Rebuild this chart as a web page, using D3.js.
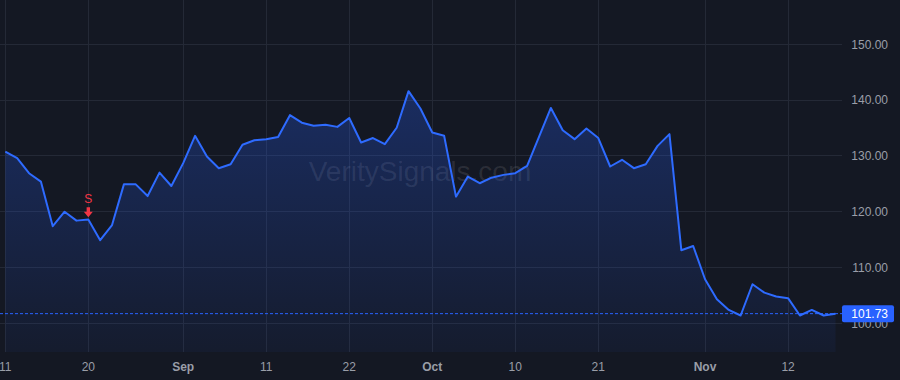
<!DOCTYPE html>
<html><head><meta charset="utf-8">
<script src="https://cdn.jsdelivr.net/npm/d3@7"></script>
<style>
html,body{margin:0;padding:0;background:#141823;}
svg{display:block;}
</style></head>
<body>
<svg id="chart" width="900" height="380"></svg>
<script>
const dates = [
 "2025-08-11","2025-08-12","2025-08-13","2025-08-14","2025-08-15","2025-08-18","2025-08-19","2025-08-20","2025-08-21","2025-08-22",
 "2025-08-25","2025-08-26","2025-08-27","2025-08-28","2025-08-29","2025-09-02","2025-09-03","2025-09-04","2025-09-05","2025-09-08",
 "2025-09-09","2025-09-10","2025-09-11","2025-09-12","2025-09-15","2025-09-16","2025-09-17","2025-09-18","2025-09-19","2025-09-22",
 "2025-09-23","2025-09-24","2025-09-25","2025-09-26","2025-09-29","2025-09-30","2025-10-01","2025-10-02","2025-10-03","2025-10-06",
 "2025-10-07","2025-10-08","2025-10-09","2025-10-10","2025-10-13","2025-10-14","2025-10-15","2025-10-16","2025-10-17","2025-10-20",
 "2025-10-21","2025-10-22","2025-10-23","2025-10-24","2025-10-27","2025-10-28","2025-10-29","2025-10-30","2025-10-31","2025-11-03",
 "2025-11-04","2025-11-05","2025-11-06","2025-11-07","2025-11-10","2025-11-11","2025-11-12","2025-11-13","2025-11-14","2025-11-17",
 "2025-11-18"];
const prices = [
 130.75,129.6,126.9,125.4,117.4,120.0,118.4,118.6,114.9,117.6,
 124.9,124.9,122.8,127.0,124.6,128.7,133.6,129.9,127.8,128.5,
 132.0,132.8,133.0,133.4,137.3,135.95,135.4,135.6,135.2,136.8,
 132.4,133.2,132.1,135.05,141.6,138.5,134.2,133.6,122.7,126.3,
 125.1,126.1,126.6,126.9,128.2,133.4,138.6,134.6,133.0,134.9,
 133.2,128.1,129.3,127.8,128.5,131.8,133.9,113.1,113.85,107.9,
 104.3,102.4,101.4,107.0,105.5,104.8,104.5,101.4,102.4,101.4,
 101.73];
const tickDates = ["2025-08-11","2025-08-20","2025-09-02","2025-09-11","2025-09-22","2025-10-01","2025-10-10","2025-10-21","2025-11-03","2025-11-12"];
const tickLabels = ["11","20","Sep","11","22","Oct","10","21","Nov","12"];
const monthTicks = ["Sep","Oct","Nov"];
const yTicks = [100,110,120,130,140,150];
const signalDates = ["2025-08-20"];
const signalLabels = ["S"];
const lastPrice = 101.73;

const W=900,H=380, plotR=842, plotB=352;
const svg = d3.select("#chart");
const x = d3.scaleLinear().domain([0, dates.length-1]).range([5.3, 835.5]);
const y = d3.scaleLinear().domain([100,150]).range([323.3, 44.3]);
const idx = d => dates.indexOf(d);

svg.append("rect").attr("width",W).attr("height",H).attr("fill","#141823");

// grid
const g = svg.append("g");
g.selectAll("line.h").data(yTicks).join("line")
 .attr("x1",0).attr("x2",plotR).attr("y1",d=>y(d)).attr("y2",d=>y(d))
 .attr("stroke","#242936").attr("stroke-width",1).attr("shape-rendering","crispEdges");
g.selectAll("line.v").data(tickDates).join("line")
 .attr("x1",d=>Math.round(x(idx(d)))+0.5).attr("x2",d=>Math.round(x(idx(d)))+0.5).attr("y1",0).attr("y2",plotB)
 .attr("stroke","#242936").attr("stroke-width",1);

// watermark
svg.append("text").attr("x",420).attr("y",181).attr("text-anchor","middle")
 .attr("font-family","Liberation Sans, Arial, sans-serif").attr("font-size",28)
 .attr("fill","#ffffff").attr("fill-opacity",0.1).text("VeritySignals.com");

// gradient
const defs = svg.append("defs");
const grad = defs.append("linearGradient").attr("id","ag")
 .attr("gradientUnits","userSpaceOnUse").attr("x1",0).attr("x2",0).attr("y1",y(d3.max(prices))).attr("y2",plotB);
grad.append("stop").attr("offset",0).attr("stop-color","#2962ff").attr("stop-opacity",0.28);
grad.append("stop").attr("offset",1).attr("stop-color","#2962ff").attr("stop-opacity",0.05);

const area = d3.area().x((d,i)=>x(i)).y0(plotB).y1(d=>y(d));
svg.append("path").datum(prices).attr("d",area).attr("fill","url(#ag)");

// price line dashed
svg.append("line").attr("x1",0).attr("x2",plotR).attr("y1",y(lastPrice)).attr("y2",y(lastPrice))
 .attr("stroke","#2962ff").attr("stroke-width",1).attr("stroke-dasharray","3,2");

const line = d3.line().x((d,i)=>x(i)).y(d=>y(d));
svg.append("path").datum(prices).attr("d",line).attr("fill","none")
 .attr("stroke","#2e6bff").attr("stroke-width",2).attr("stroke-linejoin","round");

// signal markers
signalDates.forEach((d,k)=>{
  const i = idx(d), cx = x(i), py = y(prices[i]);
  svg.append("text").attr("x",cx).attr("y",py-16.2).attr("text-anchor","middle")
   .attr("font-family","Liberation Sans, Arial, sans-serif").attr("font-size",12)
   .attr("fill","#f23645").text(signalLabels[k]);
  const top = py-12.3;
  svg.append("path").attr("d",`M${cx-1.7},${top} L${cx+1.7},${top} L${cx+1.7},${top+4.5} L${cx+4.5},${top+4.5} L${cx},${top+10} L${cx-4.5},${top+4.5} L${cx-1.7},${top+4.5} Z`)
   .attr("fill","#f23645");
});

// y axis labels
svg.selectAll("text.yl").data(yTicks).join("text")
 .attr("x",888).attr("y",d=>y(d)).attr("dy","0.35em").attr("text-anchor","end")
 .attr("font-family","Liberation Sans, Arial, sans-serif").attr("font-size",12)
 .attr("fill","#9a9ea8").text(d=>d.toFixed(2));

// last price label
svg.append("rect").attr("x",842).attr("y",y(lastPrice)-8.5).attr("width",52).attr("height",17).attr("rx",2)
 .attr("fill","#2962ff");
svg.append("text").attr("x",888).attr("y",y(lastPrice)).attr("dy","0.35em").attr("text-anchor","end")
 .attr("font-family","Liberation Sans, Arial, sans-serif").attr("font-size",12)
 .attr("fill","#ffffff").text(lastPrice.toFixed(2));

// x axis labels
svg.selectAll("text.xl").data(tickDates).join("text")
 .attr("x",d=>x(idx(d))).attr("y",367).attr("dy","0.35em").attr("text-anchor","middle")
 .attr("font-family","Liberation Sans, Arial, sans-serif").attr("font-size",12)
 .attr("font-weight",(d,i)=>monthTicks.includes(tickLabels[i])?"bold":"normal")
 .attr("fill","#9a9ea8").text((d,i)=>tickLabels[i]);
</script>
</body></html>
